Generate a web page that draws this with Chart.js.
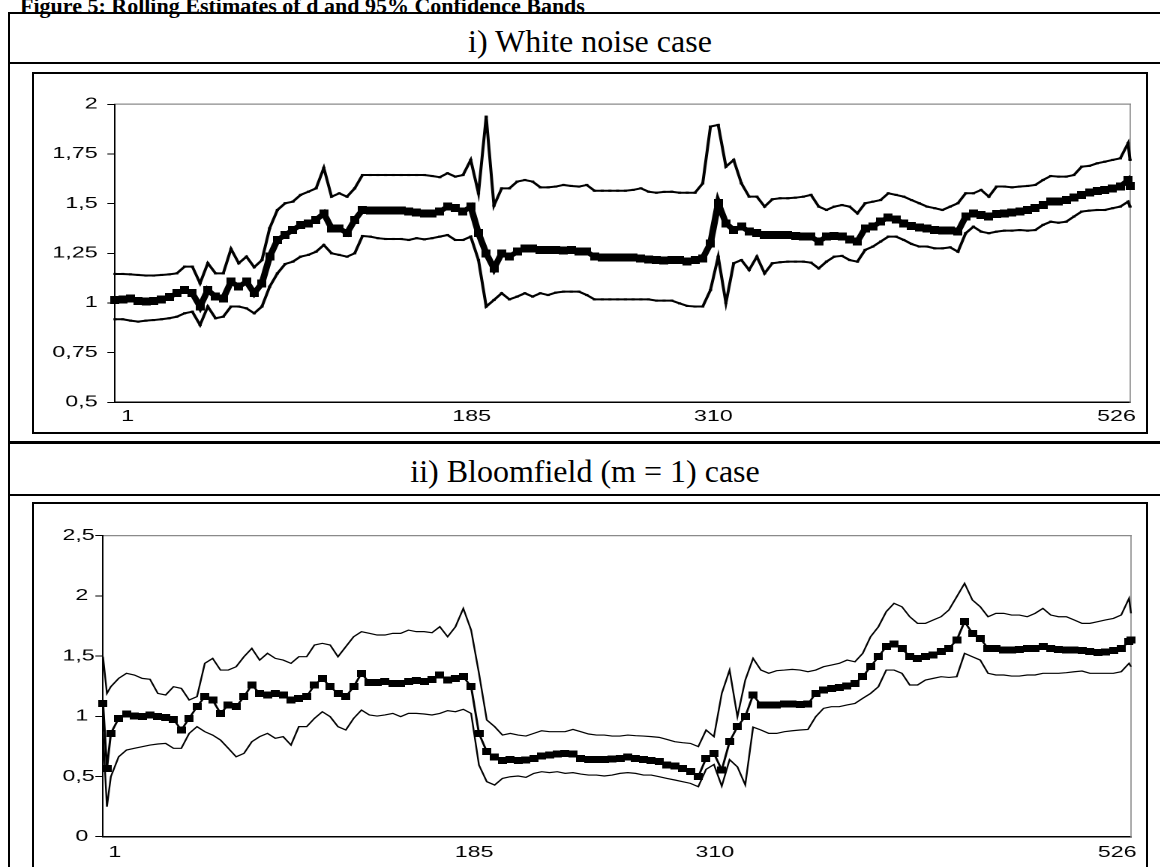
<!DOCTYPE html>
<html>
<head>
<meta charset="utf-8">
<script src="https://cdn.jsdelivr.net/npm/chart.js@4/dist/chart.umd.min.js"></script>
<style>
html,body{margin:0;padding:0;background:#fff;}
body{width:1160px;height:867px;overflow:hidden;position:relative;}
.t{position:absolute;font-family:"Liberation Serif","Times New Roman",serif;color:#000;white-space:nowrap;}
#title{left:20px;top:-5.5px;font-size:22px;line-height:22px;font-weight:bold;}
.hdr{font-size:32px;line-height:32px;text-align:center;width:600px;}
.ln{position:absolute;background:#000;}
.frame{position:absolute;border:2px solid #000;box-sizing:border-box;}
.wrap{position:absolute;transform:scaleX(1.5);transform-origin:0 0;}
</style>
</head>
<body>
<div id="title" class="t">Figure 5: Rolling Estimates of d and 95% Confidence Bands</div>

<div class="ln" style="left:8px;top:11.7px;width:1160px;height:2px"></div>
<div class="ln" style="left:8px;top:11.7px;width:2px;height:870px"></div>
<div class="ln" style="left:8px;top:62.3px;width:1160px;height:2px"></div>
<div class="ln" style="left:8px;top:441px;width:1160px;height:2.5px"></div>
<div class="ln" style="left:8px;top:494px;width:1160px;height:2px"></div>

<div class="t hdr" style="left:290px;top:25px">i) White noise case</div>
<div class="t hdr" style="left:285px;top:455px">ii) Bloomfield (m = 1) case</div>

<div class="frame" style="left:32px;top:72px;width:1116px;height:362px"></div>
<div class="frame" style="left:32px;top:502.3px;width:1116px;height:420px"></div>

<div class="wrap" style="left:33px;top:74px;width:742px;height:358px">
  <canvas id="c1" width="742" height="358" style="width:742px;height:358px"></canvas>
</div>
<div class="wrap" style="left:33px;top:505px;width:742px;height:380px">
  <canvas id="c2" width="742" height="380" style="width:742px;height:380px"></canvas>
</div>

<script>
// ---------- tick labels ----------
const xTickLabels = ['1', '185', '310', '526'];
const wnXTickAt = [7.5, 185.5, 310.5, 519];
const bfXTickAt = [7, 190.5, 313.5, 519];
const wnYTicks = [0.5, 0.75, 1, 1.25, 1.5, 1.75, 2];
const wnYLabels = ['0,5', '0,75', '1', '1,25', '1,5', '1,75', '2'];
const bfYTicks = [0, 0.5, 1, 1.5, 2, 2.5];
const bfYLabels = ['0 ', '0,5', '1 ', '1,5', '2 ', '2,5'];

// ---------- i) White noise case ----------
const wnObs = [
  1,5,9,13,17,21,25,29,33,37,
  41,45,49,53,57,61,65,69,73,77,
  81,85,89,93,97,101,105,109,113,117,
  121,125,129,133,137,141,145,149,153,157,
  161,165,169,173,177,181,185,189,193,197,
  201,205,209,213,217,221,225,229,233,237,
  241,245,249,253,257,261,265,269,273,277,
  281,285,289,293,297,301,305,309,313,317,
  321,325,329,333,337,341,345,349,353,357,
  361,365,369,373,377,381,385,389,393,397,
  401,405,409,413,417,421,425,429,433,437,
  441,445,449,453,457,461,465,469,473,477,
  481,485,489,493,497,501,505,509,513,517,
  521,525,526];
const wnUpper = [
  1.146,1.146,1.144,1.141,1.138,1.138,1.141,1.144,1.149,1.183,
  1.183,1.099,1.200,1.149,1.149,1.272,1.200,1.233,1.180,1.216,
  1.376,1.468,1.502,1.510,1.544,1.560,1.577,1.680,1.535,1.552,
  1.535,1.577,1.644,1.644,1.644,1.644,1.644,1.644,1.644,1.644,
  1.644,1.639,1.633,1.653,1.636,1.644,1.720,1.552,1.938,1.490,
  1.577,1.577,1.611,1.619,1.611,1.582,1.582,1.586,1.594,1.589,
  1.586,1.594,1.565,1.565,1.565,1.565,1.565,1.569,1.577,1.560,
  1.555,1.559,1.560,1.555,1.555,1.555,1.602,1.888,1.896,1.686,
  1.720,1.602,1.535,1.535,1.485,1.522,1.527,1.527,1.530,1.535,
  1.544,1.485,1.468,1.485,1.493,1.485,1.451,1.502,1.510,1.518,
  1.552,1.544,1.535,1.518,1.502,1.485,1.477,1.468,1.485,1.502,
  1.552,1.552,1.569,1.535,1.586,1.586,1.582,1.586,1.589,1.594,
  1.619,1.639,1.636,1.636,1.644,1.686,1.690,1.703,1.711,1.720,
  1.728,1.804,1.720];
const wnEst = [
  1.015,1.018,1.023,1.011,1.007,1.011,1.018,1.029,1.049,1.065,
  1.049,0.982,1.065,1.032,1.023,1.107,1.082,1.107,1.049,1.099,
  1.233,1.317,1.342,1.367,1.393,1.401,1.418,1.451,1.376,1.376,
  1.351,1.418,1.468,1.465,1.465,1.465,1.465,1.465,1.460,1.455,
  1.451,1.451,1.460,1.485,1.477,1.460,1.485,1.351,1.250,1.174,
  1.250,1.233,1.258,1.275,1.275,1.267,1.267,1.267,1.263,1.267,
  1.258,1.258,1.233,1.228,1.228,1.228,1.228,1.228,1.225,1.220,
  1.216,1.213,1.216,1.216,1.208,1.216,1.225,1.300,1.502,1.401,
  1.367,1.384,1.359,1.351,1.342,1.342,1.342,1.342,1.337,1.334,
  1.334,1.309,1.334,1.337,1.334,1.320,1.309,1.376,1.384,1.409,
  1.431,1.421,1.401,1.388,1.381,1.376,1.367,1.364,1.364,1.359,
  1.435,1.451,1.443,1.435,1.448,1.451,1.455,1.460,1.468,1.477,
  1.493,1.510,1.510,1.518,1.532,1.544,1.555,1.564,1.569,1.577,
  1.586,1.619,1.589];
const wnLower = [
  0.918,0.918,0.911,0.906,0.911,0.914,0.918,0.923,0.931,0.948,
  0.956,0.889,0.982,0.923,0.931,0.982,0.982,0.973,0.948,0.982,
  1.082,1.149,1.196,1.208,1.233,1.242,1.258,1.292,1.250,1.242,
  1.233,1.250,1.337,1.334,1.326,1.322,1.322,1.322,1.317,1.326,
  1.320,1.326,1.334,1.342,1.317,1.317,1.334,1.216,0.982,1.015,
  1.049,1.018,1.032,1.049,1.032,1.049,1.040,1.052,1.057,1.057,
  1.057,1.040,1.018,1.018,1.018,1.018,1.018,1.018,1.018,1.018,
  1.012,1.012,1.012,0.998,0.985,0.982,0.982,1.065,1.233,1.000,
  1.200,1.216,1.166,1.233,1.149,1.200,1.205,1.208,1.208,1.208,
  1.203,1.174,1.208,1.233,1.237,1.216,1.208,1.267,1.284,1.309,
  1.334,1.334,1.317,1.297,1.284,1.284,1.275,1.275,1.280,1.258,
  1.351,1.384,1.359,1.351,1.359,1.364,1.364,1.367,1.364,1.367,
  1.393,1.409,1.404,1.409,1.435,1.460,1.465,1.468,1.468,1.477,
  1.485,1.510,1.485];

// ---------- ii) Bloomfield (m = 1) case ----------
const bfObs = [
  1,3,
  5,9,13,17,21,25,29,33,37,41,
  45,49,53,57,61,65,69,73,77,81,
  85,89,93,97,101,105,109,113,117,121,
  125,129,133,137,141,145,149,153,157,161,
  165,169,173,177,181,185,189,193,197,201,
  205,209,213,217,221,225,229,233,237,241,
  245,249,253,257,261,265,269,273,277,281,
  285,289,293,297,301,305,309,313,317,321,
  325,329,333,337,341,345,349,353,357,361,
  365,369,373,377,381,385,389,393,397,401,
  405,409,413,417,421,425,429,433,437,441,
  445,449,453,457,461,465,469,473,477,481,
  485,489,493,497,501,505,509,513,517,521,
  525,526];
const bfUpper = [
  1.495,1.190,
  1.246,1.315,1.357,1.343,1.315,1.307,1.190,1.177,1.246,1.232,
  1.135,1.163,1.440,1.481,1.384,1.384,1.412,1.495,1.564,1.467,
  1.523,1.481,1.467,1.440,1.495,1.495,1.592,1.606,1.592,1.495,
  1.578,1.661,1.703,1.689,1.675,1.675,1.689,1.689,1.716,1.703,
  1.703,1.694,1.744,1.661,1.744,1.896,1.716,1.357,0.969,0.914,
  0.844,0.858,0.844,0.836,0.858,0.880,0.872,0.872,0.872,0.891,
  0.872,0.853,0.844,0.844,0.836,0.836,0.844,0.839,0.836,0.831,
  0.825,0.808,0.789,0.781,0.775,0.748,0.886,0.831,1.190,1.384,
  0.997,1.301,1.481,1.384,1.357,1.379,1.384,1.390,1.384,1.370,
  1.384,1.412,1.426,1.440,1.467,1.453,1.523,1.661,1.744,1.869,
  1.938,1.910,1.827,1.772,1.772,1.800,1.827,1.883,1.993,2.104,
  1.966,1.910,1.827,1.855,1.855,1.841,1.841,1.827,1.855,1.896,
  1.841,1.827,1.827,1.800,1.772,1.772,1.786,1.800,1.813,1.841,
  1.980,1.855];
const bfEst = [
  1.107,0.568,
  0.858,0.983,1.019,1.002,0.997,1.011,0.997,0.991,0.975,0.886,
  0.983,1.080,1.163,1.135,1.024,1.094,1.080,1.163,1.260,1.190,
  1.177,1.190,1.177,1.135,1.149,1.163,1.260,1.315,1.246,1.190,
  1.163,1.246,1.357,1.279,1.279,1.287,1.274,1.274,1.287,1.296,
  1.287,1.307,1.343,1.301,1.315,1.329,1.246,0.858,0.706,0.664,
  0.631,0.642,0.631,0.637,0.651,0.670,0.678,0.687,0.692,0.687,
  0.651,0.642,0.642,0.642,0.645,0.651,0.664,0.651,0.642,0.631,
  0.623,0.595,0.587,0.568,0.540,0.498,0.651,0.692,0.554,0.789,
  0.914,0.997,1.177,1.094,1.094,1.094,1.102,1.102,1.099,1.102,
  1.190,1.218,1.232,1.240,1.251,1.274,1.329,1.412,1.495,1.578,
  1.600,1.564,1.495,1.481,1.495,1.509,1.537,1.564,1.633,1.786,
  1.689,1.647,1.564,1.564,1.550,1.550,1.556,1.564,1.564,1.578,
  1.564,1.556,1.550,1.550,1.545,1.537,1.528,1.534,1.545,1.564,
  1.620,1.633];
const bfLower = [
  0.858,0.249,
  0.498,0.664,0.720,0.734,0.748,0.761,0.770,0.775,0.734,0.734,
  0.858,0.914,0.872,0.844,0.803,0.734,0.664,0.692,0.789,0.831,
  0.858,0.817,0.831,0.761,0.914,0.914,0.983,1.038,0.997,0.914,
  0.886,0.983,1.052,1.011,1.002,1.011,1.024,0.997,1.024,1.024,
  1.019,1.011,1.024,1.047,1.038,1.058,1.024,0.595,0.457,0.429,
  0.484,0.498,0.504,0.493,0.526,0.540,0.532,0.540,0.526,0.532,
  0.520,0.512,0.512,0.504,0.512,0.526,0.532,0.526,0.512,0.512,
  0.498,0.484,0.471,0.457,0.443,0.415,0.560,0.600,0.420,0.640,
  0.580,0.430,0.910,0.886,0.858,0.858,0.872,0.880,0.886,0.891,
  0.997,1.066,1.080,1.080,1.094,1.107,1.149,1.190,1.246,1.384,
  1.384,1.357,1.260,1.260,1.301,1.315,1.329,1.323,1.329,1.523,
  1.495,1.467,1.357,1.343,1.343,1.334,1.334,1.343,1.343,1.357,
  1.357,1.357,1.362,1.370,1.376,1.357,1.357,1.357,1.357,1.370,
  1.440,1.412];

// ---------- drawing ----------
const FONT = '"Liberation Sans", Arial, sans-serif';

function markerImage(w, h) {
  const c = document.createElement('canvas');
  c.width = w; c.height = h;
  const g = c.getContext('2d');
  g.fillStyle = '#000';
  g.fillRect(0, 0, w, h);
  return c;
}

function buildChart(id, o) {
  const pts = ys => o.obs.map((x, i) => ({ x: x, y: ys[i] }));
  const band = ys => ({
    data: pts(ys), xAxisID: 'x', yAxisID: 'y', order: 1,
    borderColor: '#000', borderWidth: o.bandWidth, tension: 0, clip: false,
    pointStyle: 'rect', pointRadius: o.bandDot, pointHoverRadius: o.bandDot,
    pointBackgroundColor: '#000', pointBorderWidth: 0
  });
  const lab = (arr) => (v, i) => arr[i];
  return new Chart(document.getElementById(id), {
    type: 'line',
    data: {
      datasets: [
        { data: pts(o.est), xAxisID: 'x', yAxisID: 'y', order: 0,
          borderColor: '#000', borderWidth: o.estWidth, tension: 0, clip: false,
          borderJoinStyle: 'miter',
          pointStyle: o.marker, pointRadius: 3, pointHoverRadius: 3,
          pointBackgroundColor: '#000', pointBorderWidth: 0 },
        band(o.up),
        band(o.low)
      ]
    },
    options: {
      responsive: false, animation: false, devicePixelRatio: 2, events: [],
      layout: { padding: 0 },
      plugins: { legend: { display: false }, tooltip: { enabled: false } },
      scales: {
        x: {
          type: 'linear', position: 'bottom', min: 1, max: 526, bounds: 'data',
          afterBuildTicks: s => { s.ticks = o.xAt.map(v => ({ value: v })); },
          afterFit: s => { s.height = o.xH; s.paddingLeft = 0; s.paddingRight = 0; },
          ticks: { callback: lab(xTickLabels), autoSkip: false, maxRotation: 0, minRotation: 0,
                   font: { family: FONT, size: 15.5 }, color: '#000', padding: o.xPad },
          grid: { display: false, drawTicks: false },
          border: { display: true, color: '#000', width: 1.5 }
        },
        xt: {
          type: 'linear', position: 'top', display: true,
          afterFit: s => { s.height = o.topH; s.paddingLeft = 0; s.paddingRight = 0; },
          ticks: { display: false },
          grid: { display: false, drawTicks: false },
          border: { display: true, color: '#8a8a8a', width: 1.2 }
        },
        y: {
          type: 'linear', position: 'left', min: o.yMin, max: o.yMax,
          afterBuildTicks: s => { s.ticks = o.yTicks.map(v => ({ value: v })); },
          afterFit: s => { s.width = o.yW; s.paddingTop = 0; s.paddingBottom = 0; },
          ticks: { callback: lab(o.yLabels), autoSkip: false,
                   font: { family: FONT, size: 15.5 }, color: '#000', padding: o.yPad },
          grid: { display: true, drawOnChartArea: false, drawTicks: true, tickLength: 5.1,
                  color: '#000', lineWidth: 1 },
          border: { display: true, color: '#000', width: 1 }
        },
        yr: {
          type: 'linear', position: 'right', display: true,
          afterFit: s => { s.width = o.rightW; s.paddingTop = 0; s.paddingBottom = 0; },
          ticks: { display: false },
          grid: { display: false, drawTicks: false },
          border: { display: true, color: '#8a8a8a', width: 0.8 }
        }
      }
    }
  });
}

buildChart('c1', {
  obs: wnObs, up: wnUpper, est: wnEst, low: wnLower,
  xAt: wnXTickAt, yTicks: wnYTicks, yLabels: wnYLabels, yMin: 0.5, yMax: 2,
  yW: 54.67, rightW: 10.67, topH: 30.3, xH: 29.7, xPad: 5, yPad: 6.5,
  bandWidth: 2, bandDot: 1.5, estWidth: 4.5, marker: markerImage(6, 8)
});

buildChart('c2', {
  obs: bfObs, up: bfUpper, est: bfEst, low: bfLower,
  xAt: bfXTickAt, yTicks: bfYTicks, yLabels: bfYLabels, yMin: 0, yMax: 2.5,
  yW: 46.67, rightW: 10, topH: 30.7, xH: 48.3, xPad: 6.5, yPad: 0.4,
  bandWidth: 1.2, bandDot: 0, estWidth: 1.5, marker: markerImage(6, 7)
});
</script>
</body>
</html>
